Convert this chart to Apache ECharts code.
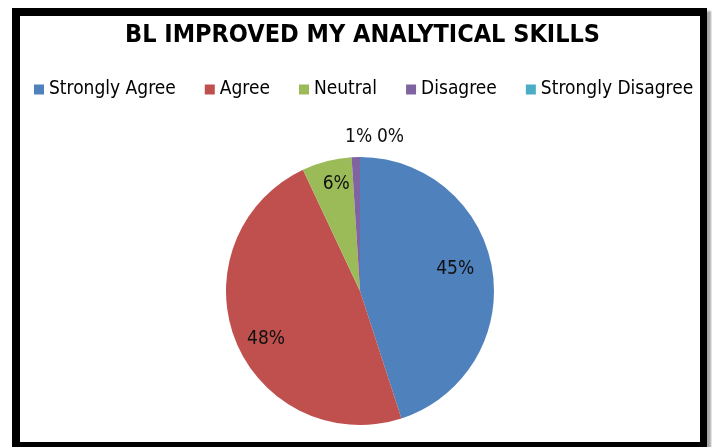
<!DOCTYPE html>
<html>
<head>
<meta charset="utf-8">
<script src="https://cdn.jsdelivr.net/npm/echarts@6/dist/echarts.min.js"></script>
<style>
html,body{margin:0;padding:0;background:#fff;overflow:hidden;}
#c{position:absolute;left:0;top:0;width:712px;height:447px;}
#frame{position:absolute;left:12px;top:8px;width:680px;height:426px;
  border-style:solid;border-color:#000;border-width:8px 7px 8px 8px;
  box-shadow:4px 3px 2px rgba(0,0,0,0.35);pointer-events:none;}
</style>
</head>
<body>
<div id="c"></div>
<div id="frame"></div>
<script>
var titleText = 'BL IMPROVED MY ANALYTICAL SKILLS';
var categories = ['Strongly Agree', 'Agree', 'Neutral', 'Disagree', 'Strongly Disagree'];
var values = [45, 48, 6, 1, 0];
var colors = ['#4F81BD', '#C0504D', '#9BBB59', '#8064A2', '#4BACC6'];

var FONT = "'Liberation Sans Narrow', 'DejaVu Sans Condensed', sans-serif";
var R = 134;
var center = [360, 291];
// label nudges (px) to mimic the original's best-fit label placement
var labelNudge = {
  'Strongly Agree': [-11, -5],
  'Agree': [6, 8],
  'Neutral': [3, -3],
  'Disagree': [22, 0],
  'Strongly Disagree': [49, 0]
};

var pieData = categories.map(function (c, i) {
  return { name: c, value: values[i], itemStyle: { color: colors[i] } };
});

var labelData = categories.map(function (c, i) {
  var small = values[i] < 3;
  return {
    name: c,
    value: values[i],
    label: {
      position: small ? 'outside' : 'inside',
      offset: labelNudge[c] || [0, 0]
    },
    labelLine: { show: false, length: 20, length2: 0 }
  };
});

var chart = echarts.init(document.getElementById('c'));
chart.setOption({
  animation: false,
  backgroundColor: '#fff',
  title: {
    text: titleText,
    left: 120,
    top: 18,
    textStyle: { fontFamily: FONT, fontWeight: 'bold', fontSize: 25, color: '#000' }
  },
  legend: {
    data: categories,
    left: 29,
    top: 75,
    itemWidth: 10,
    itemHeight: 10,
    itemGap: 29,
    icon: 'rect',
    textStyle: { fontFamily: FONT, fontSize: 19, color: '#000' }
  },
  series: [{
    type: 'pie',
    center: center,
    radius: [0, R],
    startAngle: 90,
    clockwise: true,
    silent: true,
    label: { show: false },
    labelLine: { show: false },
    itemStyle: { borderWidth: 0 },
    data: pieData
  }, {
    type: 'pie',
    center: center,
    radius: [R * 0.56, R],
    startAngle: 90,
    clockwise: true,
    silent: true,
    avoidLabelOverlap: false,
    legendHoverLink: false,
    itemStyle: { color: 'rgba(0,0,0,0)', borderWidth: 0 },
    labelLayout: { hideOverlap: false },
    label: {
      show: true,
      formatter: '{c}%',
      fontFamily: FONT,
      fontSize: 19,
      color: '#111'
    },
    data: labelData
  }]
});
</script>
</body>
</html>
